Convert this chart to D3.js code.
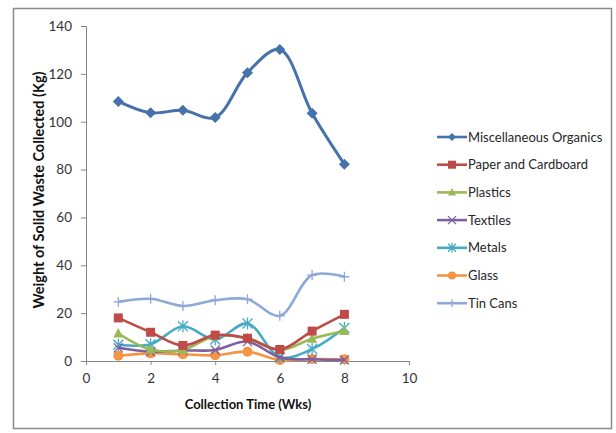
<!DOCTYPE html>
<html>
<head>
<meta charset="utf-8">
<script src="https://cdn.jsdelivr.net/npm/d3@7"></script>
<style>
  html, body { margin: 0; padding: 0; background: #fff; }
  svg { display: block; font-family: Lato, "Open Sans", sans-serif; }
</style>
</head>
<body>
<svg id="chart" width="616" height="433"></svg>
<script>
const weeks = [1, 2, 3, 4, 5, 6, 7, 8];
const seriesNames = ["Miscellaneous Organics", "Paper and Cardboard", "Plastics", "Textiles", "Metals", "Glass", "Tin Cans"];
const miscOrganics = [108.5, 103.7, 104.8, 101.8, 120.5, 130.2, 103.5, 82.2];
const paperCardboard = [18.0, 12.0, 6.5, 10.8, 9.5, 4.8, 12.5, 19.5];
const plastics = [11.5, 4.8, 4.6, 10.5, 9.5, 4.6, 9.3, 12.5];
const textiles = [5.5, 3.9, 4.4, 4.6, 8.1, 1.5, 0.7, 0.4];
const metals = [6.8, 7.0, 14.5, 9.0, 15.7, 1.6, 5.0, 13.8];
const glass = [2.2, 3.2, 2.8, 2.4, 3.9, 0.4, 0.8, 0.7];
const tinCans = [24.7, 26.0, 23.0, 25.4, 25.8, 18.9, 35.9, 35.2];
const xTicks = [0, 2, 4, 6, 8, 10];
const yTicks = [0, 20, 40, 60, 80, 100, 120, 140];
const colors = ["#4572AC", "#BE4B48", "#98B954", "#7D60A0", "#46AAC5", "#F59443", "#8EA8D8"];
const markers = ["diamond", "square", "triangle", "x", "asterisk", "circle", "plus"];

const allValues = [miscOrganics, paperCardboard, plastics, textiles, metals, glass, tinCans];
const series = seriesNames.map((name, i) => ({ name, values: allValues[i], color: colors[i], marker: markers[i] }));

const svg = d3.select("#chart");
// outer border
svg.append("rect").attr("x", 13.5).attr("y", 8.5).attr("width", 598).attr("height", 420)
  .attr("fill", "#fff").attr("stroke", "#8a8a8a").attr("stroke-width", 1.5);

const x = d3.scaleLinear().domain([0, 10]).range([86, 409]);
const y = d3.scaleLinear().domain([0, 140]).range([361, 26]);

const axisColor = "#868686";
const gx = svg.append("g").attr("transform", "translate(0,361)")
  .call(d3.axisBottom(x).tickValues(xTicks).tickSize(4).tickPadding(8));
const gy = svg.append("g").attr("transform", "translate(86,0)")
  .call(d3.axisLeft(y).tickValues(yTicks).tickSize(5).tickPadding(9));
[gx, gy].forEach(g => {
  g.select(".domain").attr("stroke", axisColor).attr("stroke-width", 1);
  g.selectAll(".tick line").attr("stroke", axisColor);
  g.selectAll(".tick text").attr("fill", "#333").style("font-size", "13.5px").style("font-family", "Lato, sans-serif");
});

svg.append("text").attr("x", 248).attr("y", 409).attr("text-anchor", "middle")
  .style("font-size", "13px").style("font-weight", "bold").attr("fill", "#111")
  .text("Collection Time (Wks)");
svg.append("text").attr("transform", "translate(44,190) rotate(-90)").attr("text-anchor", "middle")
  .style("font-size", "14.5px").style("font-weight", "bold").attr("fill", "#111")
  .text("Weight of Solid Waste Collected (Kg)");

const line = d3.line().x((d, i) => x(weeks[i])).y(d => y(d)).curve(d3.curveCatmullRom.alpha(0.5));

function drawMarker(g, type, cx, cy, color, s) {
  if (type === "diamond") {
    g.append("path").attr("d", `M${cx},${cy - s}L${cx + s},${cy}L${cx},${cy + s}L${cx - s},${cy}Z`).attr("fill", color);
  } else if (type === "square") {
    g.append("rect").attr("x", cx - s).attr("y", cy - s).attr("width", 2 * s).attr("height", 2 * s).attr("fill", color);
  } else if (type === "triangle") {
    g.append("path").attr("d", `M${cx},${cy - s * 1.1}L${cx + s},${cy + s * 0.8}L${cx - s},${cy + s * 0.8}Z`).attr("fill", color);
  } else if (type === "circle") {
    g.append("circle").attr("cx", cx).attr("cy", cy).attr("r", s).attr("fill", color);
  } else if (type === "x") {
    g.append("path").attr("d", `M${cx - s},${cy - s}L${cx + s},${cy + s}M${cx - s},${cy + s}L${cx + s},${cy - s}`)
      .attr("stroke", color).attr("stroke-width", 1.3).attr("fill", "none");
  } else if (type === "asterisk") {
    g.append("path").attr("d", `M${cx - s},${cy - s}L${cx + s},${cy + s}M${cx - s},${cy + s}L${cx + s},${cy - s}M${cx},${cy - s * 1.2}L${cx},${cy + s * 1.2}`)
      .attr("stroke", color).attr("stroke-width", 1.3).attr("fill", "none");
  } else if (type === "plus") {
    g.append("path").attr("d", `M${cx - s},${cy}L${cx + s},${cy}M${cx},${cy - s}L${cx},${cy + s}`)
      .attr("stroke", color).attr("stroke-width", 1.3).attr("fill", "none");
  }
}

const markerSize = { diamond: 5.5, square: 4.5, triangle: 5, x: 4.5, asterisk: 5, circle: 5, plus: 5 };

// draw in reverse so first series is on top
[...series].reverse().forEach(s => {
  const g = svg.append("g");
  g.append("path").attr("d", line(s.values)).attr("fill", "none").attr("stroke", s.color)
    .attr("stroke-width", s.name === "Miscellaneous Organics" ? 3 : 2.6).attr("stroke-linejoin", "round");
  s.values.forEach((v, i) => drawMarker(g, s.marker, x(weeks[i]), y(v), s.color, markerSize[s.marker]));
});

// legend
const legendY0 = 137, legendStep = 27.7;
series.forEach((s, i) => {
  const ly = legendY0 + i * legendStep;
  const g = svg.append("g");
  g.append("line").attr("x1", 437).attr("x2", 467).attr("y1", ly).attr("y2", ly)
    .attr("stroke", s.color).attr("stroke-width", 2.6);
  drawMarker(g, s.marker, 452, ly, s.color, 4);
  g.append("text").attr("x", 468).attr("y", ly + 4.5).style("font-size", "13px").attr("fill", "#262626").text(s.name);
});
</script>
</body>
</html>
